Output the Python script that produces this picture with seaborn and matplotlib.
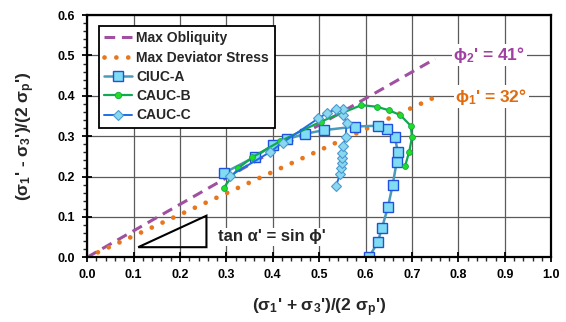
"""
Stress paths in normalised p'-q space with failure envelopes
"""

import pandas as pd
import matplotlib.pyplot as plt
import seaborn as sns
from matplotlib.ticker import MultipleLocator
from matplotlib.patches import Polygon

# failure envelopes (end points)
obliquity_x = [0.0, 0.75]
obliquity_y = [0.0, 0.492]
deviator_x = [0.0, 0.75]
deviator_y = [0.0, 0.397]

# CIUC-A stress path
ciuc_a_x = [0.607, 0.626, 0.635, 0.648, 0.658, 0.667, 0.669, 0.663, 0.645,
            0.626, 0.578, 0.510, 0.470, 0.431, 0.400, 0.362, 0.295]
ciuc_a_y = [0.000, 0.037, 0.072, 0.124, 0.178, 0.237, 0.262, 0.299, 0.318,
            0.326, 0.324, 0.315, 0.306, 0.293, 0.278, 0.249, 0.209]

# CAUC-B stress path
cauc_b_x = [0.685, 0.694, 0.700, 0.697, 0.675, 0.651, 0.624, 0.591, 0.503,
            0.415, 0.356, 0.325, 0.294]
cauc_b_y = [0.226, 0.262, 0.298, 0.326, 0.352, 0.364, 0.373, 0.377, 0.336,
            0.287, 0.248, 0.220, 0.172]

# CAUC-C stress path
cauc_c_x = [0.536, 0.545, 0.547, 0.548, 0.548, 0.549, 0.552, 0.557, 0.559,
            0.552, 0.552, 0.536, 0.516, 0.498, 0.421, 0.393, 0.308]
cauc_c_y = [0.177, 0.206, 0.220, 0.233, 0.245, 0.258, 0.276, 0.299, 0.333,
            0.352, 0.367, 0.367, 0.357, 0.344, 0.284, 0.260, 0.202]

sns.set_theme(style='white')
plt.rcParams['font.family'] = ['Liberation Sans', 'DejaVu Sans']
plt.rcParams['font.weight'] = 'bold'
plt.rcParams['mathtext.fontset'] = 'custom'
plt.rcParams['mathtext.rm'] = 'Liberation Sans:bold'
plt.rcParams['mathtext.it'] = 'Liberation Sans:bold'
plt.rcParams['mathtext.bf'] = 'Liberation Sans:bold'

fig, ax = plt.subplots(figsize=(5.66, 3.22), dpi=100)
fig.subplots_adjust(left=0.154, right=0.974, bottom=0.201, top=0.953)

sns.lineplot(x=obliquity_x, y=obliquity_y, ax=ax, color='#a050a0', lw=2.2,
             linestyle=(0, (3.5, 2.2)), label='Max Obliquity', sort=False, estimator=None)
sns.lineplot(x=deviator_x, y=deviator_y, ax=ax, color='#e8761c', lw=3.4,
             linestyle=(0, (0.01, 2.5)), dash_capstyle='round',
             label='Max Deviator Stress', sort=False, estimator=None)
sns.lineplot(x=ciuc_a_x, y=ciuc_a_y, ax=ax, color='#4a9ab8', lw=1.8,
             marker='s', markersize=6.5, markerfacecolor='#7fdcf2',
             markeredgecolor='#2050e0', markeredgewidth=1.0,
             label='CIUC-A', sort=False, estimator=None)
sns.lineplot(x=cauc_b_x, y=cauc_b_y, ax=ax, color='#10a850', lw=1.6,
             marker='o', markersize=4.2, markerfacecolor='#22dd22',
             markeredgecolor='#10a850', markeredgewidth=0.6,
             label='CAUC-B', sort=False, estimator=None)
sns.lineplot(x=cauc_c_x, y=cauc_c_y, ax=ax, color='#1f6ee8', lw=1.4,
             marker='D', markersize=5, markerfacecolor='#8ad8f0',
             markeredgecolor='#4a9ad0', markeredgewidth=0.8,
             label='CAUC-C', sort=False, estimator=None)

ax.set_xlim(0, 1.0)
ax.set_ylim(0, 0.6)
ax.xaxis.set_major_locator(MultipleLocator(0.1))
ax.yaxis.set_major_locator(MultipleLocator(0.1))
ax.xaxis.set_minor_locator(MultipleLocator(0.02))
ax.yaxis.set_minor_locator(MultipleLocator(0.02))
ax.xaxis.set_major_formatter(lambda v, p: f'{v:.1f}')
ax.yaxis.set_major_formatter(lambda v, p: f'{v:.1f}')
ax.tick_params(which='major', direction='inout', length=7, width=1.3,
               labelsize=9, colors='black', bottom=True, left=True, pad=5)
ax.tick_params(which='minor', direction='out', length=3, width=1.0,
               bottom=True, left=True)
for lab in ax.get_xticklabels() + ax.get_yticklabels():
    lab.set_fontweight('bold')
ax.grid(True, which='major', color='#5a5a5a', lw=0.9)
ax.set_axisbelow(True)
for sp in ax.spines.values():
    sp.set_color('black')
    sp.set_linewidth(1.6)

ax.set_xlabel("(σ$_1$' + σ$_3$')/(2 σ$_p$')", fontsize=12.5, fontweight='bold', labelpad=11)
ax.set_ylabel("(σ$_1$' - σ$_3$')/(2 σ$_p$')", fontsize=12.5, fontweight='bold', labelpad=15)

leg = ax.legend(loc='upper left', bbox_to_anchor=(0.01, 0.985), fontsize=10,
                frameon=True, fancybox=False, edgecolor='black', framealpha=1,
                handlelength=2.0, labelspacing=0.38, borderpad=0.4, handletextpad=0.3,
                markerscale=1.1)
leg.get_frame().set_linewidth(1.3)
for t in leg.get_texts():
    t.set_fontweight('bold')

# slope triangle and labels
ax.add_patch(Polygon([[0.110, 0.025], [0.257, 0.025], [0.257, 0.103]],
                     closed=True, fill=False, edgecolor='black', lw=1.5))
ax.text(0.282, 0.051, "tan α' = sin ϕ'", fontsize=12, fontweight='bold',
        va='center', ha='left', bbox=dict(facecolor='white', edgecolor='none', pad=1))
ax.text(0.789, 0.501, "ϕ$_2$' = 41°", fontsize=12.5, fontweight='bold', color='#a040a0',
        va='center', ha='left', bbox=dict(facecolor='white', edgecolor='none', pad=1))
ax.text(0.793, 0.398, "ϕ$_1$' = 32°", fontsize=12.5, fontweight='bold', color='#e06c10',
        va='center', ha='left', bbox=dict(facecolor='white', edgecolor='none', pad=1))

plt.savefig('out.png', dpi=100)
